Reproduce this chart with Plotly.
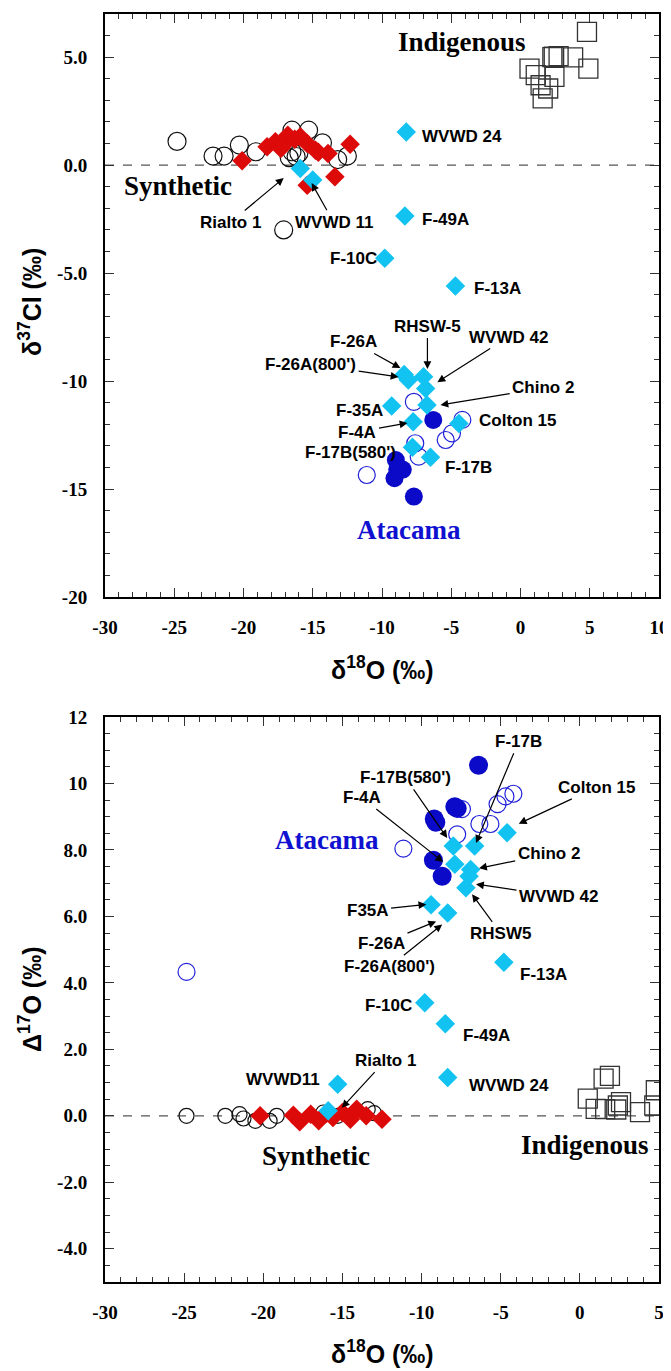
import plotly.graph_objects as go

# ---------------- Top panel data: d18O vs d37Cl ----------------
syn_circ_top_x = [-24.8, -22.2, -21.4, -20.3, -19.1, -16.5, -15.3, -14.3, -12.5, -13.2, -17.1,
                  -16.5, -16.2, -16.7, -16.0]
syn_circ_top_y = [1.1, 0.42, 0.42, 0.93, 0.62, 1.62, 1.62, 1.03, 0.42, 0.26, -3.0,
                  0.62, 0.40, 0.35, 0.55]
syn_dia_top_x = [-20.1, -18.3, -17.7, -17.3, -16.8, -15.9, -15.4, -14.8, -13.9, -12.3, -13.4, -15.4,
                 -17.0, -16.3, -14.6]
syn_dia_top_y = [0.2, 0.85, 1.08, 0.77, 1.39, 1.31, 1.0, 0.69, 0.54, 0.97, -0.54, -0.93,
                 1.0, 1.2, 0.6]
ind_sq_top_x = [4.8, 2.4, 2.75, 3.8, 4.9, 0.65, 1.1, 2.45, 1.45, 2.0, 1.6, 2.3]
ind_sq_top_y = [6.17, 5.02, 5.05, 4.99, 4.47, 4.47, 4.17, 4.09, 3.7, 3.55, 3.09, 5.0]
ata_fill_top_x = [-6.3, -9.0, -8.9, -9.1, -8.5, -7.7]
ata_fill_top_y = [-11.8, -13.66, -14.1, -14.5, -14.1, -15.35]
ata_open_top_x = [-7.7, -7.6, -7.35, -4.2, -4.95, -5.4, -11.1]
ata_open_top_y = [-10.96, -12.88, -13.5, -11.8, -12.42, -12.73, -14.35]
well_top_x = [-15.9, -15.0, -8.25, -8.35, -9.8, -4.7, -8.4, -8.1, -7.0, -6.85, -9.3, -6.75,
              -7.75, -4.45, -7.8, -6.5]
well_top_y = [-0.15, -0.69, 1.53, -2.36, -4.31, -5.6, -9.7, -9.95, -9.8, -10.34, -11.16, -11.11,
              -11.88, -11.96, -13.07, -13.53]

# ---------------- Bottom panel data: d18O vs D17O ----------------
syn_circ_bot_x = [-24.85, -22.4, -21.5, -21.25, -20.5, -19.6, -19.15, -16.2, -15.3, -13.4, -13.0]
syn_circ_bot_y = [0.0, 0.0, 0.05, -0.08, -0.15, -0.15, 0.0, 0.1, 0.0, 0.2, 0.08]
syn_dia_bot_x = [-20.2, -18.1, -17.7, -17.0, -16.5, -16.0, -15.6, -15.0, -14.5, -14.1, -13.5, -12.5]
syn_dia_bot_y = [0.0, 0.02, -0.18, 0.05, -0.15, 0.08, -0.05, 0.1, -0.1, 0.2, 0.0, -0.1]
ind_sq_bot_x = [1.9, 1.5, 0.5, 1.0, 2.4, 2.6, 2.3, 3.8, 4.8, 4.7, 1.6]
ind_sq_bot_y = [1.2, 1.12, 0.52, 0.21, 0.31, 0.41, 0.19, 0.11, 0.77, 0.31, 0.2]
ata_fill_bot_x = [-6.4, -7.9, -7.75, -9.2, -9.1, -9.25, -8.7]
ata_fill_bot_y = [10.55, 9.3, 9.25, 8.93, 8.83, 7.69, 7.21]
ata_open_bot_x = [-24.85, -11.15, -7.75, -7.45, -6.35, -5.65, -5.2, -4.7, -4.2]
ata_open_bot_y = [4.33, 8.04, 8.47, 9.23, 8.78, 8.78, 9.38, 9.61, 9.69]
well_bot_x = [-8.0, -6.65, -4.6, -7.9, -6.9, -7.0, -7.2, -9.4, -8.35, -4.8, -9.8, -8.5, -8.35,
              -15.3, -15.9]
well_bot_y = [8.12, 8.12, 8.52, 7.57, 7.41, 7.21, 6.86, 6.35, 6.1, 4.62, 3.4, 2.77, 1.15,
              0.95, 0.15]

x_ticks_top = [-30, -25, -20, -15, -10, -5, 0, 5, 10]
x_labels_top = ["-30", "-25", "-20", "-15", "-10", "-5", "0", "5", "10"]
y_ticks_top = [5, 0, -5, -10, -15, -20]
y_labels_top = ["5.0", "0.0", "-5.0", "-10", "-15", "-20"]
x_ticks_bot = [-30, -25, -20, -15, -10, -5, 0, 5]
x_labels_bot = ["-30", "-25", "-20", "-15", "-10", "-5", "0", "5"]
y_ticks_bot = [12, 10, 8, 6, 4, 2, 0, -2, -4]
y_labels_bot = ["12", "10", "8.0", "6.0", "4.0", "2.0", "0.0", "-2.0", "-4.0"]

CYAN = "#12C3F2"
RED = "#DD0A0A"
BLUE_F = "#0A0AC8"
BLUE_O = "#2020D8"

# page has an 8px body margin: figure drawn at (8, 8)
OFF = 8
W, H = 671 - OFF, 1371 - OFF
FR_L, FR_R, FR_T, FR_B = 105, 659, 14, 1282   # frame extents in page pixels
ML, MR, MT, MB = FR_L - OFF, (671 - FR_R), FR_T - OFF, (1371 - FR_B)
PW, PH = W - ML - MR, H - MT - MB


def px_x(px):
    return (px - OFF - ML) / PW


def px_y(py):
    return (H - MB - (py - OFF)) / PH


fig = go.Figure()


def add_set(xa, ya, xs, ys, symbol, size, color, filled, lw=1.2):
    if filled:
        m = dict(symbol=symbol, size=size, color=color, line=dict(width=0))
    else:
        m = dict(symbol=symbol + "-open", size=size, color=color, line=dict(width=lw, color=color))
    fig.add_trace(go.Scatter(x=xs, y=ys, mode="markers", marker=m, xaxis=xa, yaxis=ya,
                             showlegend=False, hoverinfo="skip"))


# zero lines
fig.add_trace(go.Scatter(x=[-30, 10], y=[0, 0], mode="lines", line=dict(color="#555", width=1.2, dash="dash"),
                         xaxis="x", yaxis="y", showlegend=False, hoverinfo="skip"))
fig.add_trace(go.Scatter(x=[-30, 5], y=[0, 0], mode="lines", line=dict(color="#555", width=1.2, dash="dash"),
                         xaxis="x2", yaxis="y2", showlegend=False, hoverinfo="skip"))

# top
add_set("x", "y", syn_circ_top_x, syn_circ_top_y, "circle", 18, "#111", False)
add_set("x", "y", ind_sq_top_x, ind_sq_top_y, "square", 19, "#333", False, 1.3)
add_set("x", "y", syn_dia_top_x, syn_dia_top_y, "diamond", 15, RED, True)
add_set("x", "y", ata_open_top_x, ata_open_top_y, "circle", 17, BLUE_O, False)
add_set("x", "y", ata_fill_top_x, ata_fill_top_y, "circle", 18, BLUE_F, True)
add_set("x", "y", well_top_x, well_top_y, "diamond", 15, CYAN, True)

# bottom
add_set("x2", "y2", syn_circ_bot_x, syn_circ_bot_y, "circle", 15, "#111", False)
add_set("x2", "y2", ind_sq_bot_x, ind_sq_bot_y, "square", 19, "#333", False, 1.3)
add_set("x2", "y2", syn_dia_bot_x, syn_dia_bot_y, "diamond", 15, RED, True)
add_set("x2", "y2", ata_open_bot_x, ata_open_bot_y, "circle", 17, BLUE_O, False)
add_set("x2", "y2", ata_fill_bot_x, ata_fill_bot_y, "circle", 19, BLUE_F, True)
add_set("x2", "y2", well_bot_x, well_bot_y, "diamond", 15, CYAN, True)

LBL = dict(family="Liberation Sans, Arial", size=17, color="black", weight="bold")
GRP = dict(family="Liberation Serif, Times New Roman", size=27, color="black", weight="bold")
ATA = dict(GRP, color="#1010D0")
annots = []


def label(xr, yr, x, y, text, xanchor="center", font=LBL):
    annots.append(dict(xref=xr, yref=yr, x=x, y=y, text=text, showarrow=False,
                       xanchor=xanchor, yanchor="middle", font=font))


def arrow_label(xr, yr, tx, ty, hx, hy, text):
    # text centred at (tx, ty); arrow runs from the text box to the head (hx, hy)
    annots.append(dict(xref=xr, yref=yr, axref=xr, ayref=yr, x=hx, y=hy, ax=tx, ay=ty, text=text,
                       font=LBL, showarrow=True, arrowhead=2, arrowsize=1.3, arrowwidth=1.2,
                       arrowcolor="black", standoff=0, startstandoff=1))


# top labels
label("x", "y", -4.2, 5.69, "Indigenous", font=GRP)
label("x", "y", -24.74, -0.97, "Synthetic", font=GRP)
label("x", "y", -8.02, -16.9, "Atacama", font=ATA)
arrow_label("x", "y", -20.92, -2.64, -17.1, -0.6, "Rialto 1")
arrow_label("x", "y", -13.5, -2.64, -15.08, -0.83, "WVWD 11")
label("x", "y", -7.23, 1.34, "WVWD 24", "left")
label("x", "y", -7.23, -2.5, "F-49A", "left")
label("x", "y", -10.25, -4.31, "F-10C", "right")
label("x", "y", -3.48, -5.69, "F-13A", "left")
arrow_label("x", "y", -12.05, -8.19, -8.67, -9.4, "F-26A")
arrow_label("x", "y", -15.15, -9.21, -8.81, -9.81, "F-26A(800')")
arrow_label("x", "y", -6.72, -7.45, -6.72, -9.44, "RHSW-5")
arrow_label("x", "y", -0.88, -7.96, -6.0, -10.05, "WVWD 42")
arrow_label("x", "y", 1.64, -10.32, -5.78, -11.11, "Chino 2")
label("x", "y", -3.12, -11.81, "Colton 15", "left")
label("x", "y", -9.75, -11.34, "F-35A", "right")
arrow_label("x", "y", -11.77, -12.36, -8.16, -11.94, "F-4A")
label("x", "y", -8.88, -13.29, "F-17B(580')", "right")
label("x", "y", -5.57, -13.98, "F-17B", "left")

# bottom labels
label("x2", "y2", -15.99, 8.3, "Atacama", font=ATA)
label("x2", "y2", -16.68, -1.21, "Synthetic", font=GRP)
label("x2", "y2", 0.35, -0.88, "Indigenous", font=GRP)
arrow_label("x2", "y2", -11.02, 10.18, -8.38, 8.36, "F-17B(580')")
arrow_label("x2", "y2", -3.86, 11.27, -6.56, 8.21, "F-17B")
arrow_label("x2", "y2", -13.79, 9.58, -8.64, 7.64, "F-4A")
arrow_label("x2", "y2", 1.04, 9.88, -3.86, 8.79, "Colton 15")
arrow_label("x2", "y2", -1.97, 7.88, -6.37, 7.45, "Chino 2")
arrow_label("x2", "y2", -1.35, 6.61, -6.56, 6.97, "WVWD 42")
arrow_label("x2", "y2", -4.99, 5.48, -6.81, 6.67, "RHSW5")
arrow_label("x2", "y2", -13.41, 6.18, -9.7, 6.36, "F35A")
arrow_label("x2", "y2", -12.53, 5.18, -9.08, 5.85, "F-26A")
arrow_label("x2", "y2", -12.03, 4.48, -8.7, 5.76, "F-26A(800')")
label("x2", "y2", -2.29, 4.24, "F-13A")
label("x2", "y2", -10.46, 3.33, "F-10C", "right")
label("x2", "y2", -5.87, 2.42, "F-49A")
label("x2", "y2", -4.49, 0.91, "WVWD 24")
arrow_label("x2", "y2", -12.28, 1.67, -15.04, 0.24, "Rialto 1")
label("x2", "y2", -18.75, 1.09, "WVWD11")

# axis titles
TT = dict(family="Liberation Sans, Arial", size=25, color="black", weight="bold")
annots.append(dict(xref="paper", yref="paper", x=px_x(382), y=px_y(668), showarrow=False,
                   text="δ<sup>18</sup>O (‰)", font=TT, xanchor="center", yanchor="middle"))
annots.append(dict(xref="paper", yref="paper", x=px_x(382), y=px_y(1352), showarrow=False,
                   text="δ<sup>18</sup>O (‰)", font=TT, xanchor="center", yanchor="middle"))
annots.append(dict(xref="paper", yref="paper", x=px_x(30), y=px_y(302), showarrow=False, textangle=-90,
                   text="δ<sup>37</sup>Cl (‰)", font=TT, xanchor="center", yanchor="middle"))
annots.append(dict(xref="paper", yref="paper", x=px_x(30), y=px_y(1000), showarrow=False, textangle=-90,
                   text="Δ<sup>17</sup>O (‰)", font=TT, xanchor="center", yanchor="middle"))

TF = dict(family="Liberation Serif, Times New Roman", size=19, color="black", weight="bold")
MINOR = dict(ticklen=5, ticks="inside", tickcolor="#333", tickwidth=1)


def ax_common(standoff, **kw):
    d = dict(showline=True, linecolor="black", linewidth=2, mirror="ticks", ticks="inside",
             ticklen=9, tickwidth=1.3, tickcolor="#333", showgrid=False, zeroline=False,
             tickfont=TF, ticklabelstandoff=standoff, automargin=False)
    d.update(kw)
    return d


top_lo = px_y(597)
top_hi = px_y(14)
bot_lo = px_y(1282)
bot_hi = px_y(717)

fig.update_layout(
    width=W, height=H, margin=dict(l=ML, r=MR, t=MT, b=MB),
    plot_bgcolor="white", paper_bgcolor="white",
    xaxis=ax_common(12, domain=[0, 1], range=[-30, 10], tickvals=x_ticks_top, ticktext=x_labels_top,
                    anchor="y", minor=dict(MINOR, dtick=1)),
    yaxis=ax_common(12, domain=[top_lo, top_hi], range=[-20, 7], tickvals=y_ticks_top,
                    ticktext=y_labels_top, anchor="x", minor=dict(MINOR, dtick=1)),
    xaxis2=ax_common(12, domain=[0, 1], range=[-30, 5], tickvals=x_ticks_bot, ticktext=x_labels_bot,
                     anchor="y2", minor=dict(MINOR, dtick=1)),
    yaxis2=ax_common(12, domain=[bot_lo, bot_hi], range=[-5, 12], tickvals=y_ticks_bot,
                     ticktext=y_labels_bot, anchor="x2", minor=dict(MINOR, dtick=0.5)),
    annotations=annots,
)

fig.write_html("out.html")
